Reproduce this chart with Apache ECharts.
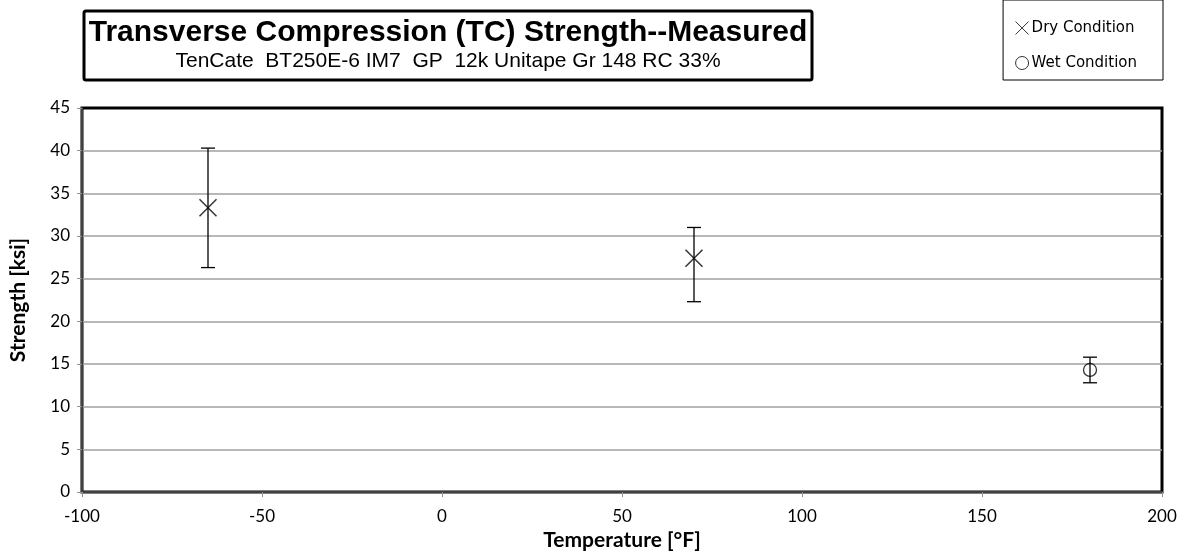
<!DOCTYPE html>
<html>
<head>
<meta charset="utf-8">
<script src="https://cdn.jsdelivr.net/npm/echarts@6/dist/echarts.min.js"></script>
<style>
  html, body { margin: 0; padding: 0; background: #fff; }
  #main { width: 1188px; height: 556px; }
</style>
</head>
<body>
<div id="main"></div>
<script>
// data
var dryTemp = [-65, 70];
var dryMean = [33.3, 27.4];
var dryHigh = [40.3, 31.0];
var dryLow  = [26.3, 22.3];

var wetTemp = [180];
var wetMean = [14.3];
var wetHigh = [15.8];
var wetLow  = [12.8];

var titleText = 'Transverse Compression (TC) Strength--Measured';
var subText = 'TenCate  BT250E-6 IM7  GP  12k Unitape Gr 148 RC 33%';

function pts(t, m) {
    var out = [];
    for (var i = 0; i < t.length; i++) out.push([t[i], m[i]]);
    return out;
}
function bars(t, lo, hi) {
    var out = [];
    for (var i = 0; i < t.length; i++) out.push([t[i], lo[i], hi[i]]);
    return out;
}

// error bar with small caps
function errorBar(params, api) {
    var lo = api.coord([api.value(0), api.value(1)]);
    var hi = api.coord([api.value(0), api.value(2)]);
    var cap = 7;
    var st = { stroke: '#000', lineWidth: 1.3 };
    return {
        type: 'group',
        children: [
            { type: 'line', shape: { x1: lo[0], y1: lo[1], x2: hi[0], y2: hi[1] }, style: st },
            { type: 'line', shape: { x1: lo[0] - cap, y1: lo[1], x2: lo[0] + cap, y2: lo[1] }, style: st },
            { type: 'line', shape: { x1: hi[0] - cap, y1: hi[1], x2: hi[0] + cap, y2: hi[1] }, style: st }
        ]
    };
}

var chart = echarts.init(document.getElementById('main'));
var labelFont = 'Lato, "Open Sans", sans-serif';

var option = {
    animation: false,
    backgroundColor: '#fff',
    grid: { left: 82, right: 26, top: 108, bottom: 63, show: true, borderColor: '#000', borderWidth: 3 },
    legend: {
        orient: 'vertical',
        right: 25,
        top: 0,
        itemGap: 17,
        itemWidth: 13,
        itemHeight: 13,
        padding: [19, 26, 8, 10],
        borderColor: '#000',
        borderWidth: 1,
        textStyle: { fontFamily: '"DejaVu Sans", sans-serif', fontSize: 15, color: '#000', padding: [0, 0, 0, -2] },
        data: [
            { name: 'Dry Condition', icon: 'path://M0,0L10,10M10,0L0,10', itemStyle: { color: 'none', borderColor: '#000', borderWidth: 1 } },
            { name: 'Wet Condition', icon: 'circle', itemStyle: { color: 'none', borderColor: '#000', borderWidth: 1 } }
        ]
    },
    xAxis: {
        type: 'value',
        min: -100, max: 200, interval: 50,
        name: 'Temperature [°F]',
        nameLocation: 'middle',
        nameGap: 38,
        nameTextStyle: { fontFamily: labelFont, fontWeight: 'bold', fontSize: 21, color: '#000' },
        axisLine: { show: true, onZero: false, lineStyle: { color: '#404040', width: 2 } },
        axisTick: { show: true, length: 5, lineStyle: { color: '#909090' } },
        axisLabel: { fontFamily: labelFont, fontSize: 17, color: '#000', margin: 16 },
        splitLine: { show: false }
    },
    yAxis: {
        type: 'value',
        min: 0, max: 45, interval: 5,
        name: 'Strength [ksi]',
        nameLocation: 'middle',
        nameGap: 53,
        nameRotate: 90,
        nameTextStyle: { fontFamily: labelFont, fontWeight: 'bold', fontSize: 21, color: '#000' },
        axisLine: { show: true, onZero: false, lineStyle: { color: '#404040', width: 2 } },
        axisTick: { show: true, length: 5, lineStyle: { color: '#909090' } },
        axisLabel: { fontFamily: labelFont, fontSize: 17, color: '#000', margin: 12 },
        splitLine: { show: true, showMinLine: false, showMaxLine: false, lineStyle: { color: '#a0a0a0', width: 1.5 } }
    },
    graphic: [
        {
            type: 'rect',
            shape: { x: 84, y: 11, width: 728, height: 69, r: 2 },
            style: { fill: '#fff', stroke: '#000', lineWidth: 3 },
            z: 10
        },
        {
            type: 'text',
            x: 448, y: 33,
            style: {
                text: titleText,
                textAlign: 'center',
                textVerticalAlign: 'middle',
                font: 'bold 30px "Liberation Sans", Arial, sans-serif',
                fill: '#000'
            },
            z: 11
        },
        {
            type: 'text',
            x: 448, y: 61,
            style: {
                text: subText,
                textAlign: 'center',
                textVerticalAlign: 'middle',
                font: '21px "Liberation Sans", Arial, sans-serif',
                fill: '#000'
            },
            z: 11
        }
    ],
    series: [
        {
            name: 'Dry Condition',
            type: 'scatter',
            symbol: 'path://M0,0L10,10M10,0L0,10',
            symbolSize: 17,
            itemStyle: { color: 'none', borderColor: '#000', borderWidth: 1.5 },
            data: pts(dryTemp, dryMean),
            z: 5
        },
        {
            name: 'Wet Condition',
            type: 'scatter',
            symbol: 'circle',
            symbolSize: 13,
            itemStyle: { color: 'none', borderColor: '#000', borderWidth: 1.3 },
            data: pts(wetTemp, wetMean),
            z: 5
        },
        {
            name: 'dryErr',
            type: 'custom',
            renderItem: errorBar,
            data: bars(dryTemp, dryLow, dryHigh),
            z: 4
        },
        {
            name: 'wetErr',
            type: 'custom',
            renderItem: errorBar,
            data: bars(wetTemp, wetLow, wetHigh),
            z: 4
        }
    ]
};

chart.setOption(option);
</script>
</body>
</html>
